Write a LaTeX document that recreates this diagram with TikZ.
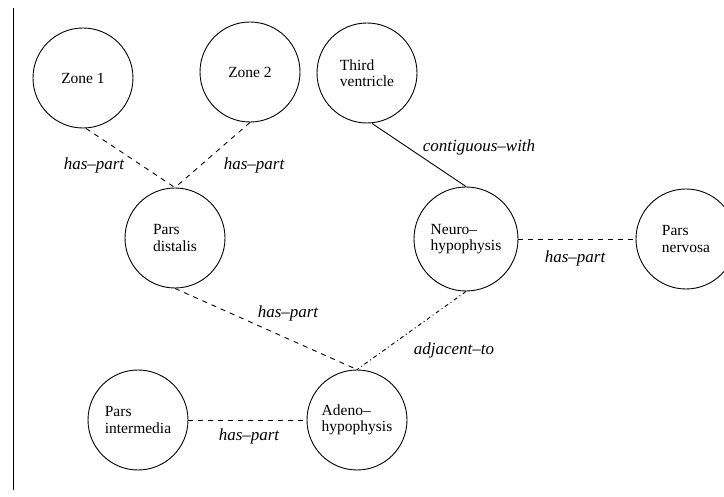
\documentclass[tikz,border=0pt]{standalone}
\usepackage{fontspec}
\setmainfont{Liberation Serif}
\begin{document}
\begin{tikzpicture}[x=1pt,y=-1pt,
  concept/.style={circle,draw,line width=0.9pt,minimum size=100pt,inner sep=0pt,
    align=left,font=\fontsize{15.5}{16.5}\selectfont},
  rel/.style={font=\fontsize{17}{18}\selectfont\itshape},
  part/.style={line width=0.9pt,dash pattern=on 5pt off 5pt},
  adj/.style={line width=0.9pt,dash pattern=on 4pt off 3pt on 1pt off 3pt},
  touch/.style={line width=0.9pt}]
\useasboundingbox (0,0) rectangle (724,497);
\draw[line width=1pt] (13,8) -- (13,490);

\node[concept] (z1)   at (83,78)   {Zone 1};
\node[concept] (z2)   at (250,72)  {Zone 2};
\node[concept] (tv)   at (367,73)  {Third\\ventricle};
\node[concept] (pd)   at (175,238) {Pars\\distalis};
\node[concept,minimum size=104pt] (nh) at (466,239) {Neuro--\\hypophysis};
\node[concept] (pn)   at (686,239) {Pars\\nervosa};
\node[concept] (pi)   at (138,420) {Pars\\intermedia};
\node[concept] (ah)   at (357,420) {Adeno--\\hypophysis};

\draw[part] (z1.south) ++(3,0) -- (pd.north);
\draw[part] (z2.south) -- (pd.north);
\draw[touch] (tv.south) ++(5,0) -- (nh.north);
\draw[part] (nh.east) -- (pn.west);
\draw[part] (pd.south) -- (ah.north);
\draw[adj] (nh.south) -- (ah.north);
\draw[part] (pi.east) -- (ah.west);

\node[rel] (l1) at (94,165)  {has--part};
\node[rel] (l2) at (254,165) {has--part};
\node[rel] (l3) at (479,147) {contiguous--with};
\node[rel] (l4) at (575,258) {has--part};
\node[rel] (l5) at (288,313) {has--part};
\node[rel] (l6) at (454,350) {adjacent--to};
\node[rel] (l7) at (249,436) {has--part};
\end{tikzpicture}
\end{document}
